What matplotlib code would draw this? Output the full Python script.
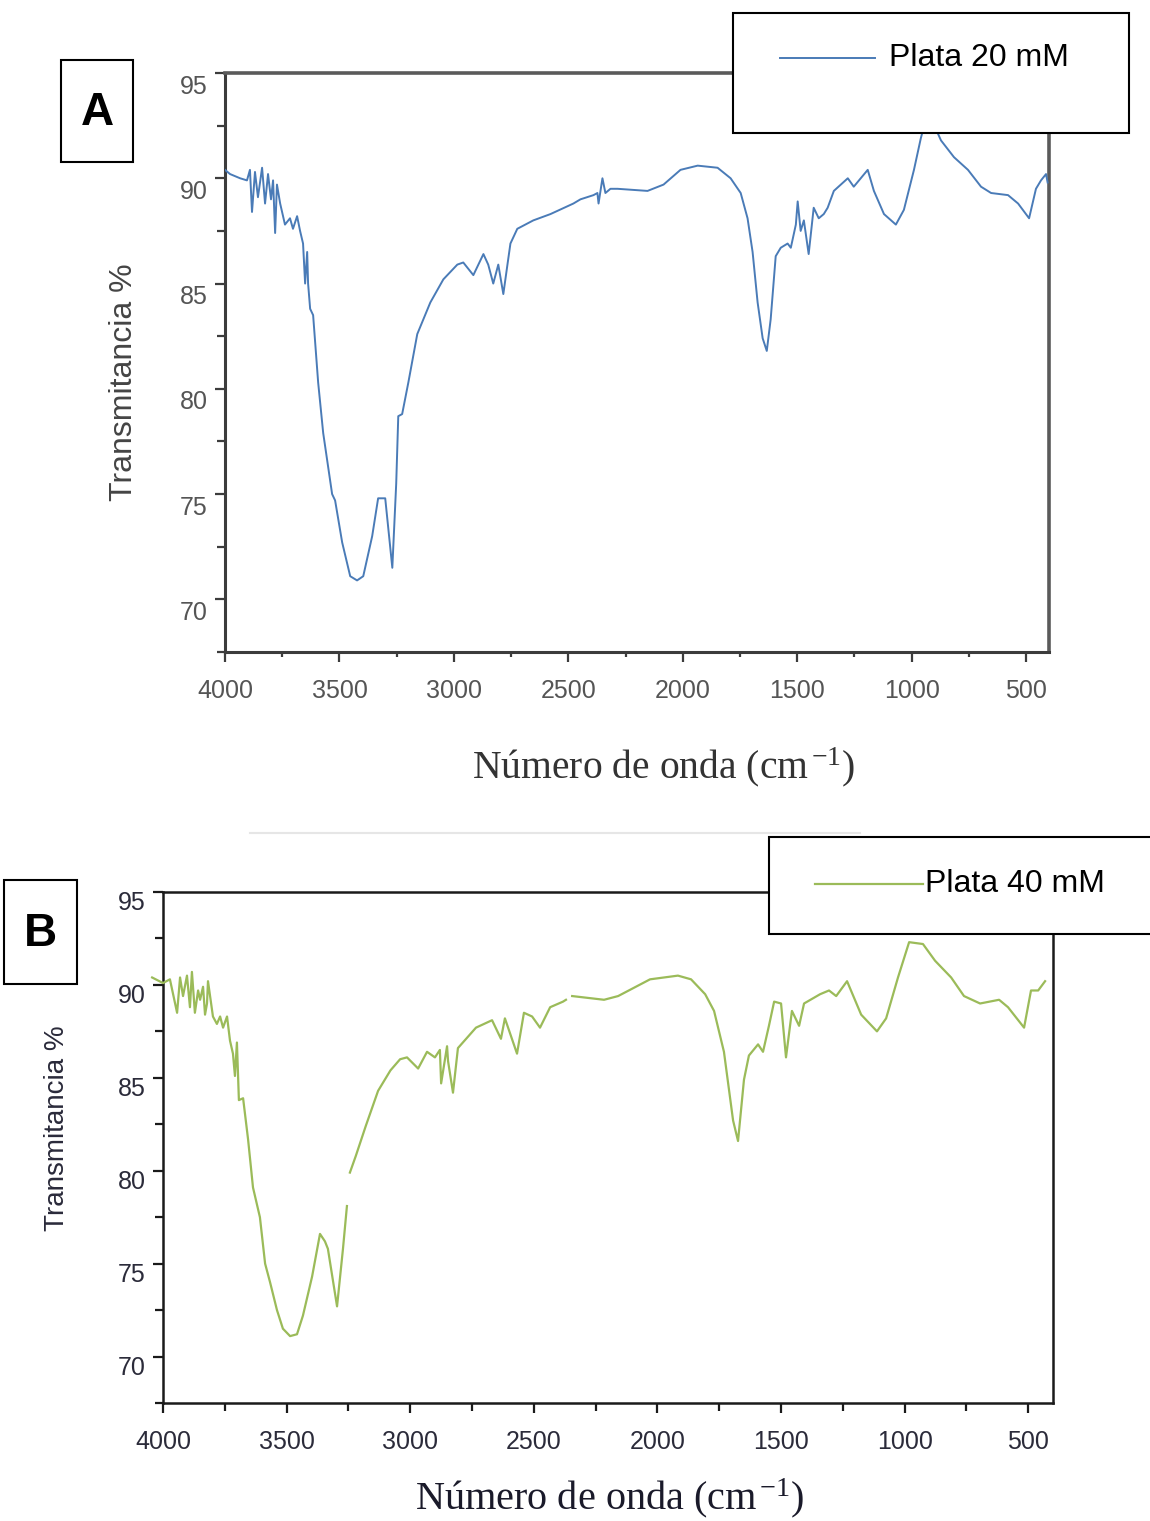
import numpy as np
import matplotlib
matplotlib.use('Agg')
import matplotlib.pyplot as plt
from matplotlib.patches import Rectangle
from matplotlib.lines import Line2D
from matplotlib.ticker import MultipleLocator
import matplotlib.transforms as mtransforms

plt.rcParams['font.family'] = ['Liberation Sans', 'DejaVu Sans']
plt.rcParams['mathtext.fontset'] = 'custom'
plt.rcParams['mathtext.rm'] = 'Liberation Serif'
plt.rcParams['mathtext.it'] = 'Liberation Serif:italic'

# ---------------- data ----------------
x_ticks = [4000, 3500, 3000, 2500, 2000, 1500, 1000, 500]
x_ticklabels = ['4000', '3500', '3000', '2500', '2000', '1500', '1000', '500']
y_ticks = [70, 75, 80, 85, 90, 95]
y_ticklabels = ['70', '75', '80', '85', '90', '95']
legend_labels = ['Plata 20 mM', 'Plata 40 mM']
panel_labels = ['A', 'B']
y_label = 'Transmitancia %'
x_label = r'Número de onda (cm$^{\,\mathregular{-1}}$)'

# Panel A : Plata 20 mM
wn_a = [4000, 3978, 3934, 3904, 3891, 3882, 3869, 3856, 3838, 3825, 3812, 3799,
        3790, 3781, 3773, 3759, 3738, 3716, 3703, 3685, 3672, 3659, 3650, 3641,
        3637, 3628, 3615, 3593, 3571, 3532, 3519, 3488, 3453, 3423, 3396, 3357,
        3331, 3300, 3269, 3252, 3243, 3226, 3199, 3160, 3103, 3046, 2985, 2959,
        2915, 2893, 2871, 2850, 2828, 2806, 2784, 2766, 2753, 2723, 2653, 2578,
        2478, 2447, 2390, 2373, 2368, 2351, 2338, 2316, 2285, 2154, 2084, 2010,
        1935, 1848, 1791, 1747, 1717, 1695, 1673, 1651, 1633, 1616, 1594, 1572,
        1542, 1528, 1506, 1498, 1485, 1471, 1450, 1428, 1406, 1384, 1367, 1340,
        1279, 1253, 1192, 1165, 1121, 1069, 1034, 990, 960, 938, 905, 872, 815,
        754, 697, 653, 579, 535, 487, 457, 435, 413, 406]
t_a = [90.4, 90.2, 90.0, 89.9, 90.4, 88.4, 90.3, 89.1, 90.5, 88.8, 90.2, 89.0,
       89.9, 87.4, 89.7, 88.8, 87.8, 88.1, 87.6, 88.2, 87.5, 86.9, 85.0, 86.5,
       85.0, 83.8, 83.5, 80.3, 77.9, 75.0, 74.7, 72.7, 71.1, 70.9, 71.1, 73.0,
       74.8, 74.8, 71.5, 75.5, 78.7, 78.8, 80.3, 82.6, 84.1, 85.2, 85.9, 86.0,
       85.4, 85.9, 86.4, 85.9, 85.0, 85.9, 84.5, 85.9, 86.9, 87.6, 88.0, 88.3,
       88.8, 89.0, 89.2, 89.3, 88.8, 90.0, 89.3, 89.5, 89.5, 89.4, 89.7, 90.4,
       90.6, 90.5, 90.0, 89.3, 88.1, 86.5, 84.1, 82.4, 81.8, 83.3, 86.3, 86.7,
       86.9, 86.7, 87.8, 88.9, 87.5, 88.0, 86.4, 88.6, 88.1, 88.3, 88.6, 89.4,
       90.0, 89.6, 90.4, 89.4, 88.3, 87.8, 88.5, 90.4, 91.9, 92.8, 92.6, 91.8, 91.0,
       90.4, 89.6, 89.3, 89.2, 88.8, 88.1, 89.5, 89.9, 90.2, 89.8]

# Panel B : Plata 40 mM
wn_b = [4044, 4000, 3972, 3943, 3931, 3919, 3903, 3891, 3883, 3871, 3858, 3850,
        3838, 3830, 3822, 3818, 3798, 3782, 3769, 3757, 3741, 3729, 3717, 3709,
        3701, 3693, 3676, 3656, 3636, 3608, 3587, 3567, 3539, 3515, 3486, 3458,
        3434, 3397, 3365, 3345, 3333, 3296, 3272, 3256, 3250, 3244, 3220, 3180,
        3130, 3080, 3041, 3013, 2968, 2932, 2900, 2880, 2875, 2851, 2847, 2827,
        2807, 2734, 2669, 2633, 2617, 2568, 2540, 2507, 2475, 2434, 2382, 2370,
        2358, 2345, 2216, 2159, 2030, 1917, 1864, 1807, 1771, 1731, 1694, 1674,
        1650, 1630, 1593, 1573, 1549, 1528, 1500, 1480, 1456, 1427, 1407, 1342,
        1306, 1277, 1233, 1176, 1112, 1075, 1027, 982, 926, 877, 812, 760, 695,
        618, 582, 517, 489, 460, 432]
t_b = [90.4, 90.1, 90.3, 88.5, 90.4, 89.4, 90.5, 88.8, 90.7, 88.5, 89.7, 89.2,
       89.9, 88.4, 89.0, 90.2, 88.3, 87.9, 88.3, 87.7, 88.3, 87.0, 86.3, 85.1,
       86.9, 83.8, 83.9, 81.7, 79.1, 77.5, 75.0, 74.0, 72.5, 71.5, 71.1, 71.2,
       72.2, 74.3, 76.6, 76.2, 75.8, 72.7, 75.8, 78.1, np.nan, 79.9, 80.8, 82.4,
       84.3, 85.4, 86.0, 86.1, 85.5, 86.4, 86.1, 86.5, 84.7, 86.7, 85.9, 84.2,
       86.6, 87.7, 88.1, 87.1, 88.2, 86.3, 88.5, 88.3, 87.7, 88.8, 89.1, 89.2,
       np.nan, 89.4, 89.2, 89.4, 90.3, 90.5, 90.3, 89.5, 88.6, 86.4, 82.7, 81.6,
       84.9, 86.2, 86.8, 86.4, 87.8, 89.1, 89.0, 86.1, 88.6, 87.8, 89.0, 89.5,
       89.7, 89.4, 90.2, 88.4, 87.5, 88.2, 90.4, 92.3, 92.2, 91.3, 90.4, 89.4, 89.0,
       89.2, 88.8, 87.7, 89.7, 89.7, 90.2]

# ---------------- figure ----------------
W, H = 1150, 1521
fig = plt.figure(figsize=(W / 100, H / 100), dpi=100)
fig.patch.set_facecolor('white')


def fx(px):
    return px / W


def fy(py):
    return 1 - py / H


def make_axes(l, r, t, b):
    return fig.add_axes([fx(l), fy(b), fx(r) - fx(l), fy(t) - fy(b)])


def style_axes(ax, spine_main, spine_other, lw_main, lw_other, tick_color,
               label_color, label_size, xminor_len, ylabel_shift_px):
    ax.set_xlim(4000, 400)
    ax.set_ylim(67.5, 95)
    ax.set_xticks(x_ticks)
    ax.set_xticklabels(x_ticklabels)
    ax.set_yticks(y_ticks)
    ax.set_yticklabels(y_ticklabels)
    ax.xaxis.set_minor_locator(MultipleLocator(250))
    ax.yaxis.set_minor_locator(MultipleLocator(2.5))
    for s in ['left', 'bottom']:
        ax.spines[s].set_color(spine_main)
        ax.spines[s].set_linewidth(lw_main)
    for s in ['top', 'right']:
        ax.spines[s].set_color(spine_other)
        ax.spines[s].set_linewidth(lw_other)
    ax.tick_params(axis='both', which='both', direction='out', color=tick_color,
                   top=False, right=False)
    ax.tick_params(axis='x', which='major', length=7.5, width=1.6, pad=12,
                   labelsize=label_size, labelcolor=label_color)
    ax.tick_params(axis='x', which='minor', length=xminor_len, width=1.6)
    ax.tick_params(axis='y', which='major', length=7.5, width=1.6, pad=5,
                   labelsize=label_size, labelcolor=label_color)
    ax.tick_params(axis='y', which='minor', length=6, width=1.6)
    off = mtransforms.ScaledTranslation(0, -ylabel_shift_px / 100, fig.dpi_scale_trans)
    for t in ax.yaxis.get_major_ticks():
        t.label1.set_transform(t.label1.get_transform() + off)


# ---- Panel A ----
axA = make_axes(225, 1049, 73, 652)
axA.plot(wn_a, t_a, color='#4a7bb7', lw=1.4, zorder=3)
style_axes(axA, '#3c3c3c', '#5a5a5a', 2.2, 2.6, '#3c3c3c', '#555555', 18, 3.5, 11)

# ---- Panel B ----
axB = make_axes(163, 1053, 892, 1403)
axB.plot(wn_b, t_b, color='#9bbb59', lw=1.6, zorder=3, clip_on=False)
style_axes(axB, '#1a1a1a', '#1a1a1a', 1.8, 1.8, '#1a1a1a', '#2b2b3a', 18, 5.5, 9)

# axis titles
fig.text(fx(124), fy(382), y_label, rotation=90, ha='center', va='center',
         fontsize=23, color='#444444')
fig.text(fx(57), fy(1128), y_label, rotation=90, ha='center', va='center',
         fontsize=20, color='#2a2a3a')
fig.text(fx(664), fy(767), x_label, ha='center', va='center', fontsize=28.5,
         family='Liberation Serif', color='#333333')
fig.text(fx(610), fy(1498), x_label, ha='center', va='center', fontsize=29,
         family='Liberation Serif', color='#1a1a2a')

# panel label boxes
for (l, r, t, b), lab in zip([(61, 133, 60, 162), (4, 77, 880, 984)], panel_labels):
    fig.add_artist(Rectangle((fx(l), fy(b)), fx(r) - fx(l), fy(t) - fy(b),
                             transform=fig.transFigure, facecolor='white',
                             edgecolor='black', lw=1.5, zorder=5))
    fig.text(fx((l + r) / 2), fy((t + b) / 2 + 2), lab, ha='center', va='center',
             fontsize=33, fontweight='bold', color='black', zorder=6)

# legend boxes
legend_specs = [
    ((733, 1129, 13, 133), (780, 875, 58), (889, 58), '#4a7bb7', 1.4),
    ((769, 1165, 837, 934), (815, 923, 884), (925, 884), '#9bbb59', 1.6),
]
for (box, ln, txt, col, lw), lab in zip(legend_specs, legend_labels):
    l, r, t, b = box
    fig.add_artist(Rectangle((fx(l), fy(b)), fx(r) - fx(l), fy(t) - fy(b),
                             transform=fig.transFigure, facecolor='white',
                             edgecolor='black', lw=1.5, zorder=5))
    fig.add_artist(Line2D([fx(ln[0]), fx(ln[1])], [fy(ln[2]), fy(ln[2])],
                          transform=fig.transFigure, color=col, lw=lw, zorder=6))
    fig.text(fx(txt[0]), fy(txt[1]), lab, ha='left', va='center', fontsize=23,
             color='black', zorder=6)

# faint separator remnant
fig.add_artist(Line2D([fx(250), fx(860)], [fy(833), fy(833)],
                      transform=fig.transFigure, color='#e6e6e6', lw=1.5, zorder=1))

fig.savefig('out.png', dpi=100, facecolor='white')
